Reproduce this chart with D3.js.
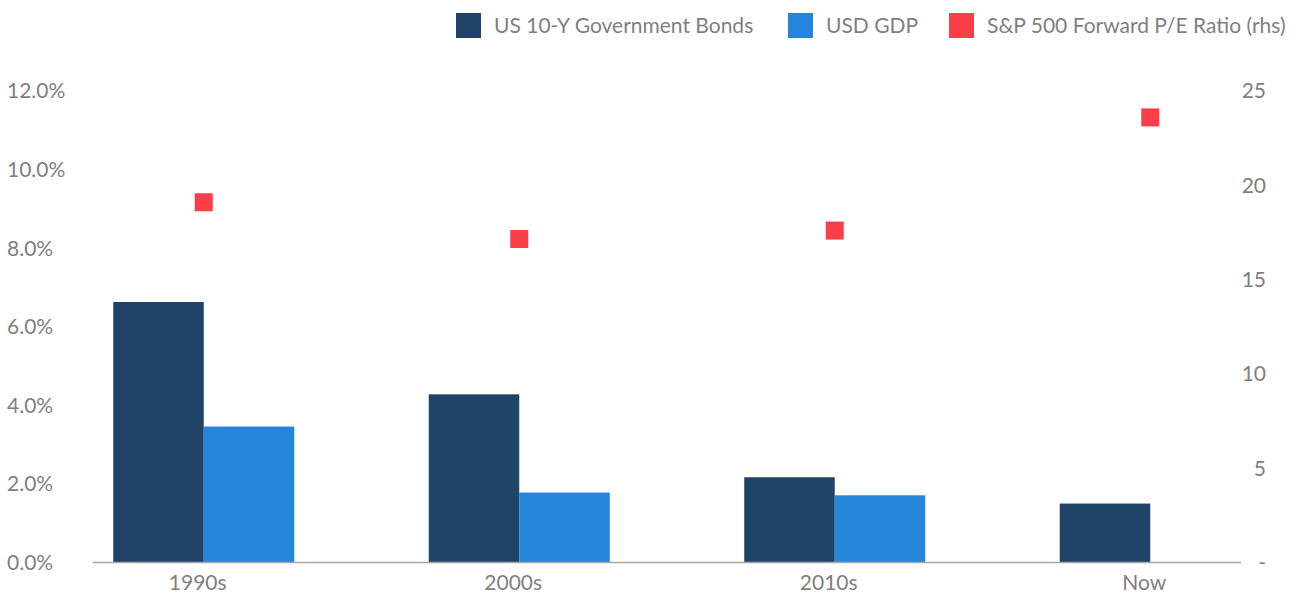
<!DOCTYPE html>
<html>
<head>
<meta charset="utf-8">
<script src="https://cdn.jsdelivr.net/npm/d3@7"></script>
<style>
  html, body { margin: 0; padding: 0; background: #fff; }
  svg { display: block; font-family: Lato, "Open Sans", sans-serif; }
  .lbl { fill: #7f7f7f; font-size: 21px; }
</style>
</head>
<body>
<svg id="chart" width="1306" height="593"></svg>
<script>
// Decades compared
const categories = ["1990s", "2000s", "2010s", "Now"];
const seriesNames = ["US 10-Y Government Bonds", "USD GDP"];
// Average yields / growth, percent
const bondYield = [6.63, 4.28, 2.17, 1.50];
const gdpGrowth = [3.46, 1.78, 1.71, null];
// Forward P/E ratio (right-hand scale)
const peRatio = [19.1, 17.15, 17.6, 23.6];
const peLabel = "S&P 500 Forward P/E Ratio (rhs)";
const leftTicks = [0, 2, 4, 6, 8, 10, 12];
const rightTicks = [0, 5, 10, 15, 20, 25];

const colors = { bond: "#1f4467", gdp: "#2485db", pe: "#fc3e48" };

const svg = d3.select("#chart");

const yLeft = d3.scaleLinear().domain([0, 12]).range([562.5, 91]);
const yRight = d3.scaleLinear().domain([0, 25]).range([562.5, 91]);

const x0 = d3.scaleBand().domain(categories).range([46, 1308]).padding(0);
const x1 = d3.scaleBand().domain(seriesNames).range([0, x0.bandwidth()])
  .paddingInner(0).paddingOuter(0.743);

// Left axis labels
svg.append("g").selectAll("text").data(leftTicks).join("text")
  .attr("class", "lbl")
  .attr("x", 7)
  .attr("y", d => yLeft(d))
  .attr("dy", "0.35em")
  .text(d => d.toFixed(1) + "%");

// Right axis labels
svg.append("g").selectAll("text").data(rightTicks).join("text")
  .attr("class", "lbl")
  .attr("x", 1266)
  .attr("y", d => yRight(d))
  .attr("dy", "0.35em")
  .attr("text-anchor", "end")
  .text(d => d === 0 ? "-" : d);

// Bars
const rows = categories.map((c, i) => ({ c, vals: [
  { s: seriesNames[0], v: bondYield[i], col: colors.bond },
  { s: seriesNames[1], v: gdpGrowth[i], col: colors.gdp }
].filter(d => d.v != null) }));

svg.append("g").selectAll("g").data(rows).join("g")
  .attr("transform", d => `translate(${x0(d.c)},0)`)
  .selectAll("rect").data(d => d.vals).join("rect")
  .attr("x", d => x1(d.s))
  .attr("width", x1.bandwidth())
  .attr("y", d => yLeft(d.v))
  .attr("height", d => yLeft(0) - yLeft(d.v))
  .attr("fill", d => d.col);

// Category axis line
svg.append("line")
  .attr("x1", 93).attr("x2", 1241)
  .attr("y1", yLeft(0)).attr("y2", yLeft(0))
  .attr("stroke", "#a6a6a6").attr("stroke-width", 1.3);

// Category labels
svg.append("g").selectAll("text").data(categories).join("text")
  .attr("class", "lbl")
  .attr("x", d => x0(d) + x0.bandwidth() / 2 - 6)
  .attr("y", 590)
  .attr("text-anchor", "middle")
  .text(d => d);

// P/E markers
const m = 18;
svg.append("g").selectAll("rect").data(categories.map((c, i) => ({ c, v: peRatio[i] }))).join("rect")
  .attr("x", d => x0(d.c) + x0.bandwidth() / 2 - m / 2)
  .attr("y", d => yRight(d.v) - m / 2)
  .attr("width", m).attr("height", m)
  .attr("fill", colors.pe);

// Legend
const legendItems = [
  { name: seriesNames[0], col: colors.bond, x: 456 },
  { name: seriesNames[1], col: colors.gdp, x: 788 },
  { name: peLabel, col: colors.pe, x: 949 }
];
const lg = svg.append("g").selectAll("g").data(legendItems).join("g")
  .attr("transform", d => `translate(${d.x},0)`);
lg.append("rect").attr("x", 0).attr("y", 13).attr("width", 25).attr("height", 25)
  .attr("fill", d => d.col);
lg.append("text").attr("class", "lbl").attr("x", 38).attr("y", 33)
  .text(d => d.name);
</script>
</body>
</html>
